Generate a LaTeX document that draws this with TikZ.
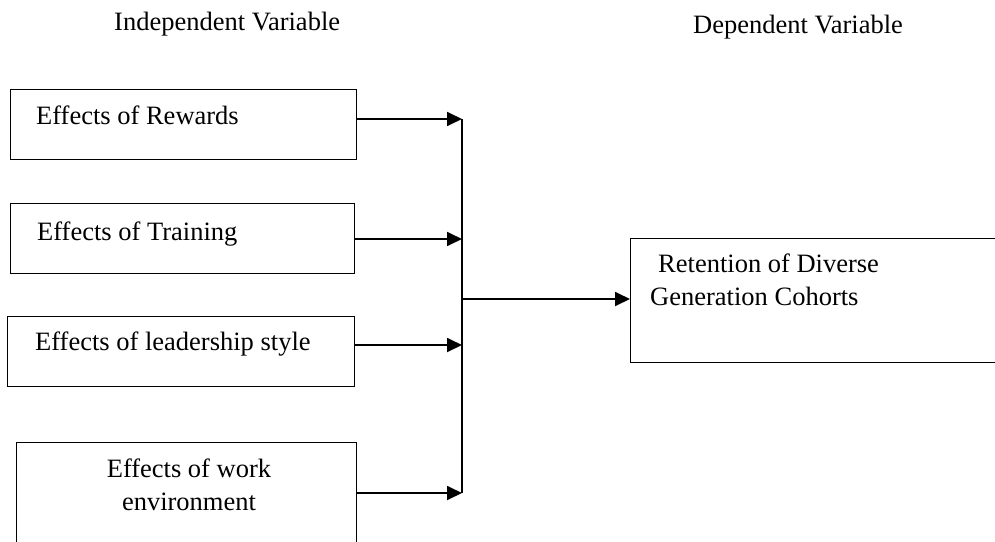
\documentclass[tikz,border=0pt]{standalone}
\usepackage{fontspec}
\setmainfont{Liberation Serif}
\usetikzlibrary{arrows.meta}

\tikzset{
  box/.style={draw, line width=0.9pt, inner sep=0pt, anchor=north west},
  txt/.style={inner sep=0pt, anchor=base west, font=\fontsize{26.5}{33}\selectfont},
  arr/.style={line width=1.8pt, -{Triangle[length=15pt,width=14pt]}},
}

\begin{document}
\begin{tikzpicture}[x=1pt, y=-1pt]

\useasboundingbox (0,0) rectangle (995,541);
\clip (0,0) rectangle (995,541);

\node [box, minimum width=346pt, minimum height=70pt] (r1) at (10,89) {};
\node [box, minimum width=344pt, minimum height=70pt] (r2) at (10,203) {};
\node [box, minimum width=347pt, minimum height=70pt] (r3) at (7,316) {};
\node [box, minimum width=340pt, minimum height=130pt] (r4) at (16,442) {};
\node [box, minimum width=400pt, minimum height=124pt] (ret) at (630,238) {};

% two-line labels: base is the last line
\node [txt] (t1) at (36,124) {Effects of Rewards};
\node [txt] (t2) at (37,240) {Effects of Training};
\node [txt] (t3) at (35,350) {Effects of leadership style};
\node [txt, anchor=base, align=center] (t4) at (189,510) {Effects of work\\environment};
\node [txt, align=left] (t5) at (650,305) {\hspace*{8pt}Retention of Diverse\\Generation Cohorts};

\node [txt] (iv) at (114,30) {Independent Variable};
\node [txt] (dv) at (693,33) {Dependent Variable};

\coordinate (b1) at (462,119);
\coordinate (b2) at (462,239);
\coordinate (b3) at (462,345);
\coordinate (b4) at (462,493);
\coordinate (bm) at (462,299);

\draw [line width=1.4pt] (b1) -- (b4);

\foreach \i in {1,...,4}
    \draw [arr] (r\i.east |- b\i) -- (b\i);

\draw [arr] (bm) -- (ret.west |- bm);

\end{tikzpicture}
\end{document}
